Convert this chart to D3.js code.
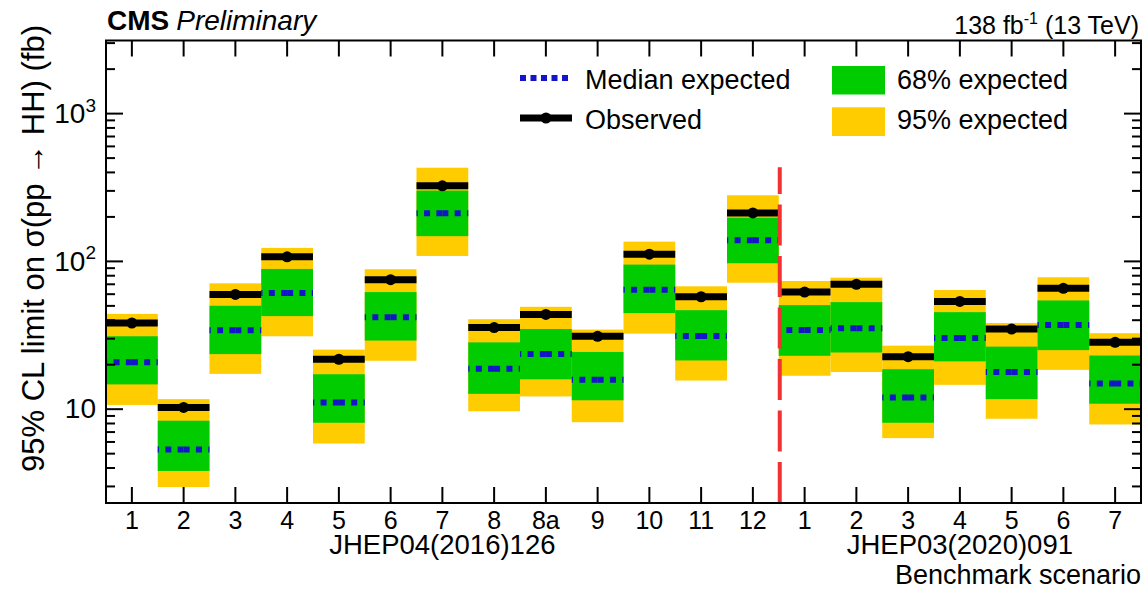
<!DOCTYPE html>
<html><head><meta charset="utf-8">
<script src="https://cdn.jsdelivr.net/npm/d3@7"></script>
<style>
body{margin:0;background:#fff}
svg{display:block}
svg text{font-family:"Liberation Sans",Arial,Helvetica,sans-serif;fill:#000}
</style>
</head><body>
<svg id="c" width="1144" height="590"></svg>
<script>
// ---------- data ----------
const categories = ["1","2","3","4","5","6","7","8","8a","9","10","11","12","1","2","3","4","5","6","7"];
const observed  = [38.0, 10.2, 59.3, 106.5, 21.6, 74.6, 322, 35.4, 43.4, 30.9, 111, 57.2, 211, 61.5, 69.4, 22.5, 53.2, 34.6, 65.2, 28.1];
const expMedian = [20.6, 5.29, 33.9, 60.6, 11.0, 41.6, 210, 18.6, 23.4, 15.7, 63.8, 31.0, 138, 34.1, 35.0, 11.9, 30.1, 17.7, 36.9, 14.8];
const exp68lo   = [14.6, 3.79, 23.4, 42.3, 8.03, 28.9, 147, 12.6, 15.8, 11.4, 44.3, 21.2, 96.4, 22.8, 24.0, 8.03, 20.9, 11.6, 24.9, 10.8];
const exp68hi   = [30.9, 8.29, 49.7, 88.2, 17.1, 61.5, 299, 28.1, 34.6, 24.2, 94.4, 46.4, 196, 50.2, 52.6, 18.5, 45.0, 26.3, 54.0, 22.9];
const exp95lo   = [10.6, 2.95, 17.2, 30.9, 5.81, 21.1, 108, 9.6, 12.1, 8.1, 32.2, 15.5, 71.2, 16.7, 17.7, 6.32, 14.5, 8.55, 18.3, 7.82];
const exp95hi   = [43.8, 11.6, 70.5, 122.5, 25.1, 87.8, 427, 40.3, 48.9, 34.3, 135, 67.3, 278, 73.1, 77.0, 26.7, 63.5, 38.0, 77.5, 32.4];
const groupLabels = ["JHEP04(2016)126", "JHEP03(2020)091"];
const groupCenters = [6, 16];
const separatorAfter = 12;
const separatorTop = 430;
const yDomain = [2.3, 3100];
const yMajorTicks = [10, 100, 1000];
const yMajorExponents = ["", "2", "3"];
const yMinorTicks = [3,4,5,6,7,8,9,20,30,40,50,60,70,80,90,200,300,400,500,600,700,800,900,2000,3000];

// ---------- layout ----------
const svg = d3.select("#c");
const L = 106, R = 1141, T = 40.5, B = 503;
const x = d3.scaleBand().domain(d3.range(categories.length)).range([L, R]).padding(0);
const y = d3.scaleLog().domain(yDomain).range([B, T]);
const bw = x.bandwidth();
const cx = i => x(i) + bw / 2;
const idx = d3.range(categories.length);

const YELLOW = "#ffcc00", GREEN = "#00cc00", BLUE = "#1414c8", RED = "#f03232";

// bands
svg.append("g").selectAll("rect").data(idx).join("rect")
  .attr("x", i => x(i)).attr("width", bw)
  .attr("y", i => y(exp95hi[i])).attr("height", i => y(exp95lo[i]) - y(exp95hi[i]))
  .attr("fill", YELLOW);
svg.append("g").selectAll("rect").data(idx).join("rect")
  .attr("x", i => x(i)).attr("width", bw)
  .attr("y", i => y(exp68hi[i])).attr("height", i => y(exp68lo[i]) - y(exp68hi[i]))
  .attr("fill", GREEN);

// median (dashed, drawn from centre outwards)
const med = svg.append("g").attr("stroke", BLUE).attr("stroke-width", 6).attr("stroke-dasharray", "6,6.3").attr("fill", "none");
med.selectAll("path.l").data(idx).join("path").attr("class","l")
  .attr("d", i => `M${cx(i)},${y(expMedian[i])}H${x(i)}`);
med.selectAll("path.r").data(idx).join("path").attr("class","r")
  .attr("d", i => `M${cx(i)},${y(expMedian[i])}H${x(i)+bw}`);

// observed
svg.append("g").selectAll("line").data(idx).join("line")
  .attr("x1", i => x(i)).attr("x2", i => x(i) + bw)
  .attr("y1", i => y(observed[i])).attr("y2", i => y(observed[i]))
  .attr("stroke", "#000").attr("stroke-width", 7);
svg.append("g").selectAll("circle").data(idx).join("circle")
  .attr("cx", cx).attr("cy", i => y(observed[i])).attr("r", 5.5).attr("fill", "#000");

// separator
const sx = x(separatorAfter) + bw + 1;
svg.append("line").attr("x1", sx).attr("x2", sx)
  .attr("y1", y(yDomain[0])).attr("y2", y(separatorTop))
  .attr("stroke", RED).attr("stroke-width", 4).attr("stroke-dasharray", "41,10.5");

// ---------- axes ----------
function styleAxis(g){
  g.attr("font-family", null).attr("font-size", null);
  g.select(".domain").remove();
  g.selectAll(".tick line").attr("stroke","#000").attr("stroke-width",2);
}

svg.append("g").attr("transform", `translate(${L},0)`)
  .call(d3.axisLeft(y).tickValues(yMajorTicks).tickSize(-17).tickFormat(""))
  .call(styleAxis);
svg.append("g").attr("transform", `translate(${L},0)`)
  .call(d3.axisLeft(y).tickValues(yMinorTicks).tickSize(-9).tickFormat(""))
  .call(styleAxis);
svg.append("g").attr("transform", `translate(${R},0)`)
  .call(d3.axisRight(y).tickValues(yMajorTicks).tickSize(-17).tickFormat(""))
  .call(styleAxis);
svg.append("g").attr("transform", `translate(${R},0)`)
  .call(d3.axisRight(y).tickValues(yMinorTicks).tickSize(-9).tickFormat(""))
  .call(styleAxis);

// y tick labels 10, 10^2, 10^3
const yl = svg.append("g").selectAll("text").data(yMajorTicks).join("text")
  .attr("x", L - 10).attr("y", d => y(d)).attr("dy", "0.35em")
  .attr("text-anchor", "end").attr("font-size", 28);
yl.append("tspan").text("10");
yl.append("tspan").attr("font-size", 19).attr("dy", "-0.6em").text((d, k) => yMajorExponents[k]);

const xb = svg.append("g").attr("transform", `translate(0,${B})`)
  .call(d3.axisBottom(x).tickSize(-16).tickPadding(8).tickFormat(i => categories[i]));
styleAxis(xb);
xb.selectAll(".tick text").attr("font-size", 25).attr("fill", "#000");
svg.append("g").attr("transform", `translate(0,${T})`)
  .call(d3.axisTop(x).tickSize(-16).tickFormat(""))
  .call(styleAxis);

// frame
svg.append("rect").attr("x", L).attr("y", T).attr("width", R - L).attr("height", B - T)
  .attr("fill", "none").attr("stroke", "#000").attr("stroke-width", 2);

// group labels
svg.append("g").selectAll("text").data(groupLabels).join("text")
  .attr("x", (d, k) => cx(groupCenters[k])).attr("y", 554)
  .attr("text-anchor", "middle").attr("font-size", 27.5).text(d => d);
svg.append("text").attr("x", 1141).attr("y", 584).attr("text-anchor", "end")
  .attr("font-size", 27).text("Benchmark scenario");

// y title
svg.append("text").attr("transform", "rotate(-90)").attr("x", -25).attr("y", 44)
  .attr("text-anchor", "end").attr("font-size", 31).text("95% CL limit on σ(pp → HH) (fb)");

// header
const hdr = svg.append("text").attr("x", 107).attr("y", 30).attr("font-size", 28);
hdr.append("tspan").attr("font-weight", "bold").text("CMS");
hdr.append("tspan").attr("font-style", "italic").attr("dx", 7).text("Preliminary");
const lumi = svg.append("text").attr("x", 1139).attr("y", 34).attr("text-anchor", "end").attr("font-size", 25);
lumi.append("tspan").text("138 fb");
lumi.append("tspan").attr("font-size", 16).attr("dy", -10).text("-1");
lumi.append("tspan").attr("dy", 10).text(" (13 TeV)");

// legend
const lg = svg.append("g");
lg.append("line").attr("x1", 520).attr("x2", 572).attr("y1", 78).attr("y2", 78)
  .attr("stroke", BLUE).attr("stroke-width", 6).attr("stroke-dasharray", "6,4.5");
lg.append("text").attr("x", 585).attr("y", 89).attr("font-size", 27).text("Median expected");
lg.append("line").attr("x1", 520).attr("x2", 572).attr("y1", 118).attr("y2", 118)
  .attr("stroke", "#000").attr("stroke-width", 7);
lg.append("circle").attr("cx", 546).attr("cy", 118).attr("r", 5.5).attr("fill", "#000");
lg.append("text").attr("x", 585).attr("y", 129).attr("font-size", 27).text("Observed");
lg.append("rect").attr("x", 832).attr("y", 66).attr("width", 53).attr("height", 28.5).attr("fill", GREEN);
lg.append("text").attr("x", 897).attr("y", 88.5).attr("font-size", 27).text("68% expected");
lg.append("rect").attr("x", 832).attr("y", 107.3).attr("width", 53).attr("height", 28.7).attr("fill", YELLOW);
lg.append("text").attr("x", 897).attr("y", 129).attr("font-size", 27).text("95% expected");
</script>
</body></html>
